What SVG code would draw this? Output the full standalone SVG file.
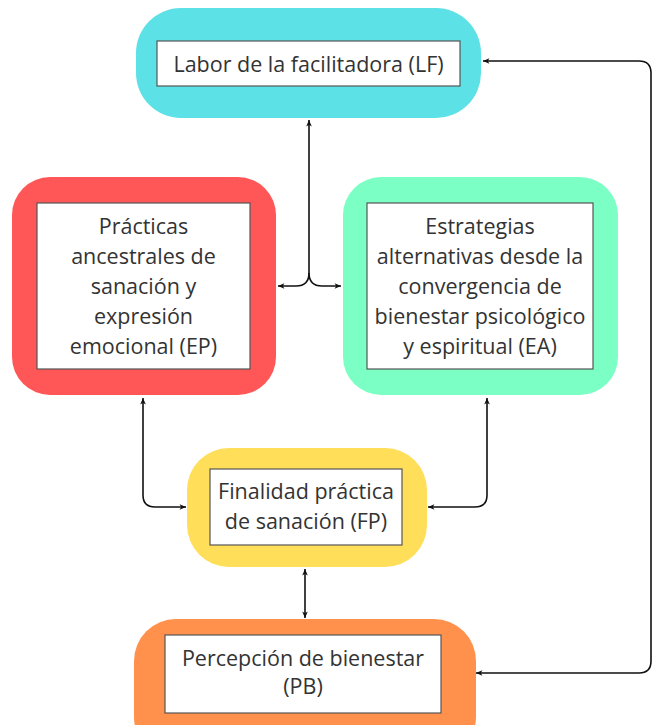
<svg xmlns="http://www.w3.org/2000/svg" width="652" height="725" viewBox="0 0 652 725">
<defs>
<marker id="arr" viewBox="0 0 10 10" refX="9" refY="5" markerWidth="8" markerHeight="8" markerUnits="userSpaceOnUse" orient="auto-start-reverse">
<path d="M1,1.5 L9,5 L1,8.5 L3,5 Z" fill="#111"/>
</marker>
</defs>
<style>
.inner{fill:#fff;stroke:#555;stroke-width:1.2}
.t{font-family:"Open Sans","Noto Sans",sans-serif;font-size:21.5px;fill:#333;text-anchor:middle}
.c{fill:none;stroke:#111;stroke-width:1.6;marker-start:url(#arr);marker-end:url(#arr)}
.c1{fill:none;stroke:#111;stroke-width:1.6;marker-end:url(#arr)}
</style>
<rect width="652" height="725" fill="#fff"/>
<g id="LF">
<rect x="136" y="8" width="345" height="110" rx="45" fill="#5CE1E6"/>
<rect class="inner" x="157" y="41" width="303" height="45"/>
<text class="t" x="308.500" y="72">Labor de la facilitadora (LF)</text>
</g>
<g id="EP">
<rect x="12" y="177" width="264" height="218" rx="38" fill="#FF5757"/>
<rect class="inner" x="37" y="203" width="213" height="166"/>
<text class="t" x="143.500" y="234">Prácticas</text>
<text class="t" x="143.500" y="264">ancestrales de</text>
<text class="t" x="143.500" y="294">sanación y</text>
<text class="t" x="143.500" y="324">expresión</text>
<text class="t" x="143.500" y="354">emocional (EP)</text>
</g>
<g id="EA">
<rect x="343" y="177" width="275" height="218" rx="38" fill="#7CFFC4"/>
<rect class="inner" x="367" y="203" width="226" height="166"/>
<text class="t" x="480" y="234">Estrategias</text>
<text class="t" x="480" y="264">alternativas desde la</text>
<text class="t" x="480" y="294">convergencia de</text>
<text class="t" x="480" y="324">bienestar psicológico</text>
<text class="t" x="480" y="354">y espiritual (EA)</text>
</g>
<g id="FP">
<rect x="187" y="448" width="240" height="119" rx="42" fill="#FFDE59"/>
<rect class="inner" x="210" y="469" width="192" height="76"/>
<text class="t" x="306" y="499">Finalidad práctica</text>
<text class="t" x="306" y="529">de sanación (FP)</text>
</g>
<g id="PB">
<rect x="134" y="619" width="342" height="140" rx="42" fill="#FF914D"/>
<rect class="inner" x="165" y="635" width="276" height="78"/>
<text class="t" x="303" y="666">Percepción de bienestar</text>
<text class="t" x="303" y="694">(PB)</text>
</g>
<g id="connectors">
<path class="c" d="M309 120 V273 Q309 286 296 286 H278"/>
<path class="c1" d="M309 273 Q309 286 322 286 H341"/>
<path class="c" d="M143 398 V495 Q143 507 155 507 H186"/>
<path class="c" d="M487 398 V495 Q487 507 475 507 H428"/>
<path class="c" d="M305 569 V618"/>
<path class="c" d="M476 673 H639 Q651 673 651 661 V73 Q651 61 639 61 H483"/>
</g>
</svg>
